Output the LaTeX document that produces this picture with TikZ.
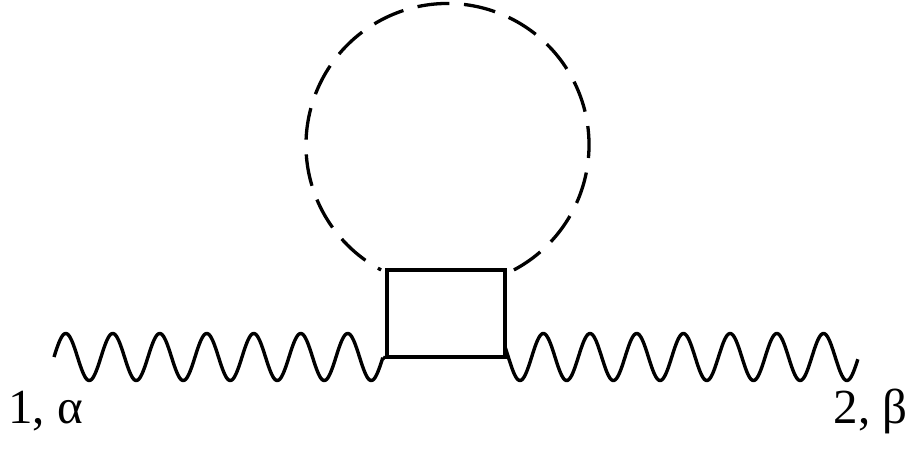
\documentclass[tikz,border=0pt]{standalone}
\usepackage{fontspec}
\setmainfont{Liberation Serif}
\newfontfamily\leglabelfont{Liberation Serif}
\begin{document}
\begin{tikzpicture}[x=1pt,y=1pt,
  photon/.style={line width=3.4pt, line join=round},
  vertexbox/.style={draw, line width=3.4pt, minimum width=118pt, minimum height=87pt, inner sep=0pt},
  scalarloop/.style={line width=3.3pt, dash pattern=on 32pt off 14.7pt},
  leglabel/.style={inner sep=0pt, font=\leglabelfont\fontsize{49}{58}\selectfont}]
\useasboundingbox (0,0) rectangle (910,450);
% vertex box
\node[vertexbox] (vertex) at (446,136.5) {};
% dashed loop
\coordinate (center) at (447.5,305);
\draw[scalarloop] (center) ++(-62:141.5) arc[start angle=-62, end angle=242, radius=141.5];
% photon legs
\coordinate (lend) at (383,93);
\draw[photon] plot[variable=\t, domain=0:7, samples=400, smooth] ({54+47*\t}, {93 + 23.5*sin(360*\t)});
\draw[photon] (lend) -- (vertex.south west);
\draw[photon] plot[variable=\t, domain=-0.0707:7.4904, samples=400, smooth] ({508.3+46.7*\t}, {93 - 23.5*sin(360*\t)});
% labels
\node[leglabel, anchor=base west] (lab1) at (8,27) {1, α};
\node[leglabel, anchor=base east] (lab2) at (908,27) {2, β};
\end{tikzpicture}
\end{document}
